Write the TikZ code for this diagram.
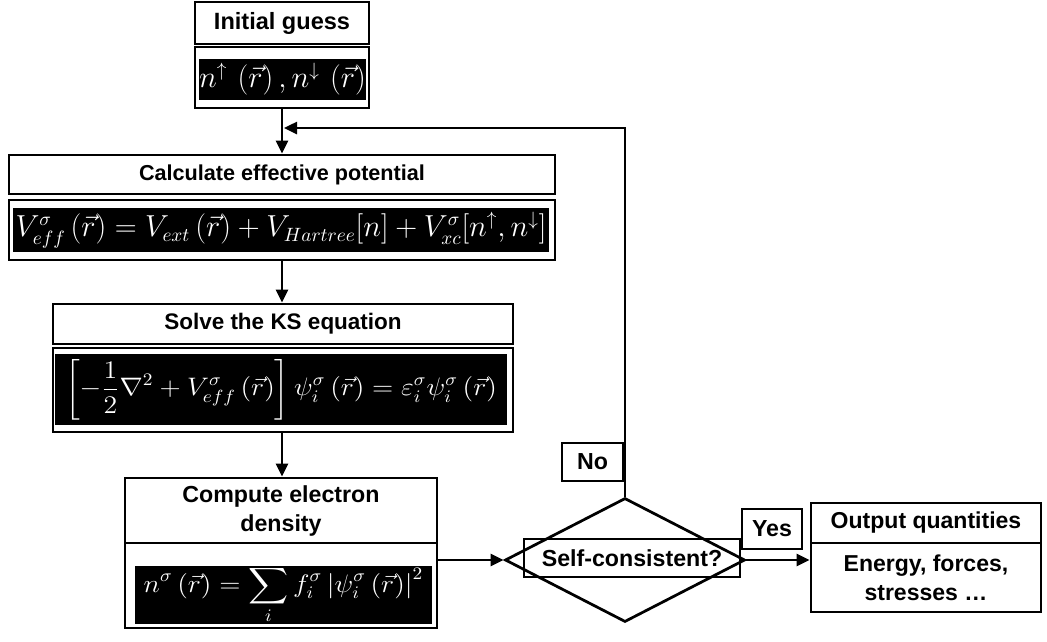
\documentclass[tikz,border=0pt]{standalone}
\usepackage[no-math]{fontspec}
\setmainfont{Liberation Sans}
\usepackage{amsmath}
\usetikzlibrary{arrows.meta,positioning,shapes.geometric}

\begin{document}
\begin{tikzpicture}[
  x=0.2mm,y=-0.2mm,
  ttl/.style={draw,line width=0.55mm,align=center,inner sep=0pt,
    font=\fontsize{12.8}{16.5}\selectfont\bfseries},
  frame/.style={draw,line width=0.55mm,inner sep=0pt},
  mathbox/.style={fill=black,text=white,inner sep=0pt,font=\fontsize{16}{19}\selectfont},
  tag/.style={draw,line width=0.25mm,inner sep=0pt,font=\fontsize{13.2}{15}\selectfont\bfseries},
  arr/.style={-{Triangle[length=2.6mm,width=2.4mm]},line width=0.5mm}]
  \useasboundingbox (0,0) rectangle (1047,641);
  % initial guess
  \node[ttl,font=\fontsize{13.4}{16}\selectfont\bfseries,minimum width=34.8mm,minimum height=8.4mm] (gT) at (282,23) {Initial guess};
  \node[frame,minimum width=34.8mm,minimum height=12.2mm] (gF) at (282,77.5) {};
  \node[mathbox,minimum width=32.2mm,minimum height=8.2mm] (gM) at (282.5,79.5)
      {$n^{\uparrow}\,\left(\vec{r}\right),n^{\downarrow}\,\left(\vec{r}\right)$};
  % effective potential
  \node[ttl,font=\fontsize{12.3}{15}\selectfont\bfseries,minimum width=109.2mm,minimum height=7.8mm] (cT) at (282,174.5) {Calculate effective potential};
  \node[frame,minimum width=109.2mm,minimum height=12mm] (cF) at (282,230) {};
  \node[mathbox,minimum width=107.2mm,minimum height=8.8mm] (cM) at (281,230)
      {$V^{\sigma}_{eff}\left(\vec{r}\right)=V_{ext}\left(\vec{r}\right)+V_{Hartree}[n]+V^{\sigma}_{xc}[n^{\uparrow},n^{\downarrow}]$};
  % KS equation
  \node[ttl,minimum width=92mm,minimum height=8mm] (sT) at (283,324) {Solve the KS equation};
  \node[frame,minimum width=92mm,minimum height=16.8mm] (sF) at (283,390) {};
  \node[mathbox,font=\fontsize{14.5}{17}\selectfont,minimum width=90.2mm,minimum height=14.2mm] (sM) at (281,389.5)
      {\scalebox{1.1}[1]{$\displaystyle\left[-\frac{1}{2}\nabla^{2}+V^{\sigma}_{eff}\left(\vec{r}\right)\right]\psi^{\sigma}_{i}\left(\vec{r}\right)=\varepsilon^{\sigma}_{i}\psi^{\sigma}_{i}\left(\vec{r}\right)$}};
  % density
  \node[ttl,font=\fontsize{13.2}{16.5}\selectfont\bfseries,minimum width=62.4mm,minimum height=13mm] (dT) at (281,510.5) {Compute electron\\density};
  \node[frame,minimum width=62.4mm,minimum height=17mm] (dF) at (281,585.5) {};
  \node[mathbox,font=\fontsize{14}{17}\selectfont,minimum width=59.4mm,minimum height=11.2mm] (dM) at (283.5,595)
      {\scalebox{1.1}[1]{$\displaystyle n^{\sigma}\left(\vec{r}\right)=\sum_{i}f^{\sigma}_{i}\left|\psi^{\sigma}_{i}\left(\vec{r}\right)\right|^{2}$}};
  % decision
  \node[diamond,draw,line width=0.55mm,inner sep=0pt,minimum width=48mm,minimum height=24.8mm] (dec) at (625,560) {};
  \node[tag,minimum width=43.2mm,minimum height=7.6mm] (decL) at (632,558) {Self-consistent?};
  \node[tag,minimum width=12.2mm,minimum height=7.6mm] (no) at (592.5,462) {No};
  \node[tag,minimum width=12mm,minimum height=8mm] (yes) at (772,529) {Yes};
  % output
  \node[ttl,font=\fontsize{13.1}{16.5}\selectfont\bfseries,minimum width=46mm,minimum height=8mm] (oT) at (926,523) {Output quantities};
  \node[ttl,font=\fontsize{13.1}{16.5}\selectfont\bfseries,minimum width=46mm,minimum height=13.8mm] (oF) at (926,577.5) {Energy, forces,\\stresses …};
  \coordinate (fb) at (284,128);
  \draw[arr] (gF.south) -- (gF.south |- cT.north);
  \draw[arr] (cF.south) -- (cF.south |- sT.north);
  \draw[arr] (sF.south -| cF.south) -- (cF.south |- dT.north);
  \draw[arr] (dF.east |- dec.west) -- (dec.west);
  \draw[arr] (dec.east) -- (dec.east -| oF.west);
  \draw[arr] (dec.north) |- (fb);
\end{tikzpicture}
\end{document}
